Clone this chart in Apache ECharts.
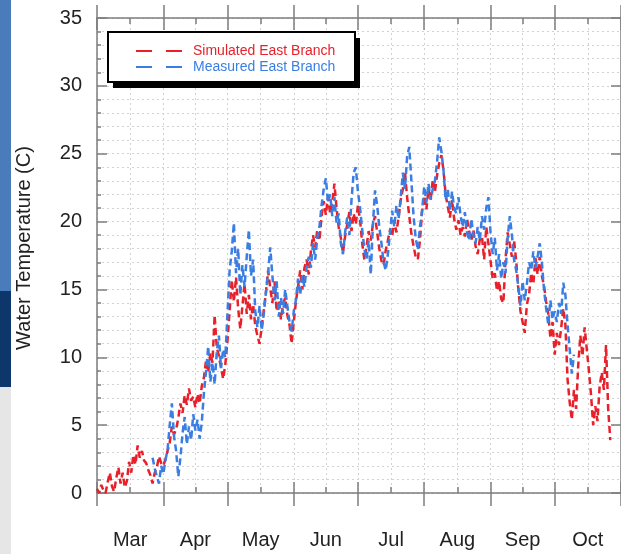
<!DOCTYPE html>
<html><head><meta charset="utf-8">
<script src="https://cdn.jsdelivr.net/npm/echarts@6/dist/echarts.min.js"></script>
<style>html,body{margin:0;padding:0;background:#fff}#c{width:621px;height:554px}</style>
</head><body><div id="c"></div>
<script>
// ---- data (x = days since Mar 1) ----
const monthNames = ['Mar', 'Apr', 'May', 'Jun', 'Jul', 'Aug', 'Sep', 'Oct'];
const monthStarts = [0, 31, 61, 92, 122, 153, 184, 214, 245];
const monthMids = [15.5, 46, 76.5, 107, 137.5, 168.5, 199, 229.5];
const yTicks = [0, 5, 10, 15, 20, 25, 30, 35];

const simulatedStartDay = 0;
const simulated = [
  0.3, 0.0, 0.6, 0.2, 0.0, 0.8, 1.5, 0.5, 0.1, 1.1,
  1.9, 0.7, 1.5, 0.4, 0.9, 2.3, 1.5, 2.8, 2.1, 3.5,
  2.6, 3.1, 2.4, 2.2, 1.7, 1.3, 0.7, 1.5, 1.9, 2.7,
  2.2, 2.0, 2.5, 3.1, 3.7, 4.9, 4.3, 4.7, 5.5, 6.6,
  5.9, 7.2, 6.5, 7.7, 6.8, 7.1, 6.3, 7.3, 6.6, 7.9,
  8.5, 9.8, 8.9, 10.3, 9.6, 13.1, 10.7, 10.1, 9.2, 8.4,
  9.5, 11.2, 13.4, 15.7, 14.1, 15.9, 13.6, 12.1, 13.8, 15.4,
  13.2, 14.6, 12.8, 13.9, 12.3, 11.6, 11.0, 12.2, 13.5, 14.8,
  16.4, 15.1, 14.0, 15.6, 13.4, 14.2, 12.8, 13.9, 14.4, 13.1,
  12.4, 11.0, 12.6, 14.1, 15.2, 16.4, 15.0, 16.6, 17.2, 16.1,
  17.8, 19.0, 18.1, 19.4, 18.6, 20.4, 21.5, 20.5, 21.8, 20.6,
  21.4, 22.8, 21.0, 19.6, 18.8, 17.7, 18.9, 19.8, 20.7, 19.3,
  20.6, 19.8, 21.2, 20.1, 18.4, 17.2, 18.1, 19.3, 18.6, 19.8,
  20.4, 19.2, 18.0, 17.1, 16.8, 17.9, 18.6, 19.4, 18.9, 20.1,
  19.2, 20.3, 21.6, 22.4, 23.6, 21.8, 20.4, 19.1, 18.2, 17.4,
  17.2, 18.6, 20.8, 21.9, 20.9, 22.4, 21.6, 23.1, 22.2, 23.4,
  24.3, 24.9, 23.8, 22.0, 21.1, 20.3, 21.6, 20.2, 19.4, 20.1,
  19.0, 19.6, 18.9, 20.2, 19.3, 18.6, 19.4, 18.2, 17.6, 18.7,
  18.9, 17.2, 19.6, 18.4, 17.1, 15.8, 16.2, 14.9, 15.6, 14.3,
  14.0, 17.2, 19.2, 18.3, 17.4, 18.6, 17.1, 15.0, 13.4, 12.6,
  11.8, 13.9, 14.6, 16.2, 15.4, 17.3, 16.1, 17.4, 16.0, 15.3,
  14.1, 13.2, 11.4, 12.6, 10.2, 11.8, 10.9, 12.1, 13.6, 12.4,
  8.4, 6.7, 5.4, 7.6, 6.2, 9.4, 11.6, 10.1, 12.2, 10.6,
  9.0, 7.2, 5.0, 6.4, 5.3, 7.8, 8.9, 7.6, 10.9, 6.2, 3.9
];

const measuredStartDay = 26;
const measured = [
  2.6, 1.8, 1.2, 0.7, 2.0, 1.4, 2.4, 3.2, 5.0, 6.6,
  4.2, 3.1, 1.2, 2.6, 4.4, 5.6, 3.6, 4.9, 3.9, 5.8,
  4.6, 5.4, 4.0, 5.2, 7.4, 9.0, 10.8, 8.2, 9.6, 8.0,
  10.4, 11.6, 9.2, 10.6, 10.0, 13.2, 16.4, 17.8, 19.9, 16.2,
  18.0, 14.6, 16.8, 15.2, 17.4, 19.4, 16.0, 17.2, 13.4, 12.2,
  13.8, 12.0, 13.2, 14.8, 16.2, 18.1, 16.0, 14.2, 15.6, 13.0,
  14.4, 13.2, 15.0, 13.8, 12.6, 11.9, 13.4, 14.2, 15.8, 14.6,
  16.0, 15.2, 16.6, 17.4, 16.6, 18.4, 17.2, 18.8, 19.6, 21.2,
  22.4, 23.2, 21.4, 22.0, 20.4, 21.8, 19.9, 20.6, 18.4, 17.6,
  19.2, 20.3, 19.0, 21.6, 23.6, 24.0, 22.2, 21.0, 19.4, 18.0,
  17.2, 18.6, 16.1, 19.8, 22.3, 21.2, 19.6, 18.4, 17.0, 16.4,
  17.6, 19.2, 20.8, 19.6, 21.2, 20.2, 21.8, 23.6, 22.4, 24.8,
  25.5, 23.0, 20.4, 18.8, 17.9, 19.6, 20.8, 22.6, 21.4, 22.8,
  21.6, 22.4, 23.0, 24.4, 26.2, 25.2, 23.8, 21.6, 22.4, 20.8,
  22.2, 21.0, 20.6, 21.8, 20.4, 19.6, 20.7, 19.2, 18.6, 20.2,
  19.0, 18.4, 19.6, 18.6, 20.4, 19.4, 21.0, 21.8, 19.2, 17.6,
  18.8, 16.4, 17.6, 15.8, 17.0, 16.2, 18.8, 20.4, 19.0, 17.2,
  16.4, 15.2, 13.8, 15.6, 14.2, 15.4, 17.0, 16.4, 17.8, 16.6,
  17.4, 18.4, 17.0, 15.0, 13.6, 12.4, 14.2, 12.8, 13.4, 12.6,
  14.0, 13.2, 15.5, 14.6, 12.4, 10.6, 8.8, 10.2
];

// ---- chart ----
const RED = '#e8202a';
const BLUE = '#3a7ee4';
const AX = '#7d7d7d';
const GRIDC = '#d2d2d2';
const FONT = '"Liberation Sans", Arial, Helvetica, sans-serif';
const xMin = monthStarts[0], xMax = monthStarts[monthStarts.length - 1];
const yMin = yTicks[0], yMax = yTicks[yTicks.length - 1], yStep = yTicks[1] - yTicks[0];
const halfMonths = monthStarts.concat(monthMids).sort((a, b) => a - b);
const toPairs = (start, arr) => arr.map((v, i) => [start + i, v]);

function xAx(extra) {
  return Object.assign({
    type: 'value', min: xMin, max: xMax, gridIndex: 0,
    axisLine: { show: false, onZero: false },
    axisTick: { show: false },
    axisLabel: { show: false },
    splitLine: { show: false }
  }, extra);
}
const tickStyle = { color: AX, width: 1.5 };

const chart = echarts.init(document.getElementById('c'), null, { renderer: 'canvas' });
chart.setOption({
  animation: false,
  backgroundColor: '#ffffff',
  grid: { left: 97, top: 18, width: 532, height: 475, containLabel: false },
  xAxis: [
    xAx({ position: 'bottom',
      axisLine: { show: true, onZero: false, lineStyle: tickStyle },
      axisTick: { show: true, inside: true, length: 11, customValues: monthStarts, lineStyle: tickStyle },
      axisLabel: { show: true, customValues: monthMids, margin: 37, fontSize: 20, color: '#222', fontFamily: FONT,
        formatter: v => monthNames[monthMids.indexOf(v)] || '' } }),
    xAx({ position: 'bottom',
      axisTick: { show: true, inside: false, length: 13, customValues: monthStarts, lineStyle: tickStyle } }),
    xAx({ position: 'bottom',
      axisTick: { show: true, inside: true, length: 6, customValues: monthMids, lineStyle: tickStyle } }),
    xAx({ position: 'top',
      axisLine: { show: true, onZero: false, lineStyle: tickStyle },
      axisTick: { show: true, inside: false, length: 13, customValues: monthStarts, lineStyle: tickStyle } }),
    xAx({ position: 'top',
      axisTick: { show: true, inside: true, length: 12, customValues: monthStarts, lineStyle: tickStyle } }),
    xAx({ position: 'top',
      axisTick: { show: true, inside: true, length: 6, customValues: monthMids, lineStyle: tickStyle } }),
    xAx({ position: 'bottom',
      axisTick: { show: false, customValues: halfMonths },
      splitLine: { show: true, lineStyle: { color: GRIDC, type: [2, 3], width: 1 } } })
  ],
  yAxis: [
    { type: 'value', position: 'left', min: yMin, max: yMax, interval: yStep, gridIndex: 0,
      name: 'Water Temperature (C)', nameLocation: 'middle', nameRotate: 90, nameGap: 63,
      nameTextStyle: { fontSize: 20, color: '#222', fontFamily: FONT, padding: [0, 0, 0, 15] },
      axisLine: { show: true, onZero: false, lineStyle: tickStyle },
      axisTick: { show: true, inside: true, length: 10, lineStyle: tickStyle },
      minorTick: { show: true, splitNumber: 5, length: 4, lineStyle: tickStyle },
      axisLabel: { show: true, margin: 15, fontSize: 20, color: '#222', fontFamily: FONT, padding: [10, 0, 0, 0] },
      splitLine: { show: true, lineStyle: { color: GRIDC, type: [2, 3], width: 1 } },
      minorSplitLine: { show: true, lineStyle: { color: GRIDC, type: [2, 3], width: 1 } } },
    { type: 'value', position: 'right', min: yMin, max: yMax, interval: yStep, gridIndex: 0,
      axisLine: { show: true, onZero: false, lineStyle: tickStyle },
      axisTick: { show: true, inside: true, length: 10, lineStyle: tickStyle },
      axisLabel: { show: false }, splitLine: { show: false } }
  ],
  legend: {
    orient: 'vertical', left: 131, top: 39, z: 10,
    itemWidth: 46, itemHeight: 2, itemGap: 2, selectedMode: false,
    icon: 'path://M0,0H16V2H0Z M30,0H46V2H30Z',
    textStyle: { fontSize: 14, fontFamily: FONT, padding: [0, 0, 0, 6] },
    data: [
      { name: 'Simulated East Branch', textStyle: { color: RED } },
      { name: 'Measured East Branch', textStyle: { color: BLUE } }
    ]
  },
  graphic: [
    { type: 'rect', z: 1, shape: { x: 0, y: 0, width: 11, height: 291 }, style: { fill: '#4a7bbb' } },
    { type: 'rect', z: 1, shape: { x: 0, y: 291, width: 11, height: 96 }, style: { fill: '#0d376b' } },
    { type: 'rect', z: 1, shape: { x: 0, y: 387, width: 11, height: 167 }, style: { fill: '#e6e6e6' } },
    { type: 'rect', z: 5, shape: { x: 113, y: 38, width: 247, height: 50 }, style: { fill: '#000' } },
    { type: 'rect', z: 6, shape: { x: 108, y: 32, width: 247, height: 50 }, style: { fill: '#fff', stroke: '#000', lineWidth: 2 } }
  ],
  series: [
    { type: 'line', name: 'Simulated East Branch', xAxisIndex: 0, yAxisIndex: 0,
      data: toPairs(simulatedStartDay, simulated), symbol: 'none', showSymbol: false,
      lineStyle: { color: RED, width: 2.5, type: [7, 4] }, itemStyle: { color: RED }, z: 3 },
    { type: 'line', name: 'Measured East Branch', xAxisIndex: 0, yAxisIndex: 0,
      data: toPairs(measuredStartDay, measured), symbol: 'none', showSymbol: false,
      lineStyle: { color: BLUE, width: 2.5, type: [7, 4] }, itemStyle: { color: BLUE }, z: 4 }
  ]
});
</script></body></html>
